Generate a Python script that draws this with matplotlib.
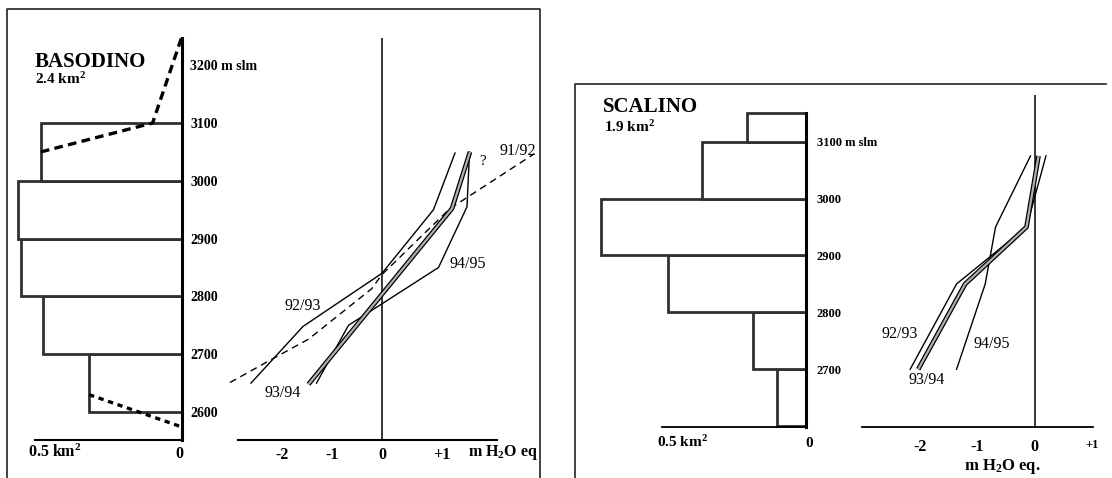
import matplotlib
matplotlib.use('Agg')
import matplotlib.pyplot as plt
from matplotlib.lines import Line2D
from matplotlib.transforms import ScaledTranslation

plt.rcParams['font.family'] = ['Liberation Serif', 'DejaVu Serif']
plt.rcParams['mathtext.fontset'] = 'custom'
plt.rcParams['mathtext.rm'] = 'Liberation Serif'
plt.rcParams['mathtext.bf'] = 'Liberation Serif:bold'
plt.rcParams['mathtext.it'] = 'Liberation Serif:italic'

# ---------------- data ----------------
# BASODINO area-altitude distribution (km2 per 100 m band)
bas_band_bottom = [2600, 2700, 2800, 2900, 3000]
bas_band_area = [0.316, 0.473, 0.548, 0.558, 0.48]
bas_ext_top_area = [0.48, 0.10, 0.0]
bas_ext_top_elev = [3050, 3100, 3250]
bas_ext_bot_area = [0.316, 0.0]
bas_ext_bot_elev = [2630, 2574]
bas_elev_ticks = [2600, 2700, 2800, 2900, 3000, 3100, 3200]
bas_elev_labels = ['2600', '2700', '2800', '2900', '3000', '3100', '3200 m slm']

# BASODINO mass balance profiles (m w.e.)
bas_9192_b = [-3.04, -2.21, -1.47, -0.21, 0.0, 0.29, 0.56, 1.36, 3.05]
bas_9192_z = [2651, 2691, 2726, 2813, 2838, 2862, 2885, 2952, 3047]
bas_9293_b = [-2.62, -1.58, 0.0, 1.03, 1.46]
bas_9293_z = [2650, 2748, 2840, 2950, 3048]
bas_9394_b = [-1.47, 1.40, 1.76]
bas_9394_z = [2648, 2952, 3050]
bas_9495_b = [-1.31, -0.67, 1.13, 1.70, 1.75]
bas_9495_z = [2650, 2750, 2850, 2955, 3050]

# SCALINO area-altitude distribution
sca_band_bottom = [2600, 2700, 2800, 2900, 3000, 3100]
sca_band_height = [100, 100, 100, 100, 100, 50]
sca_band_area = [0.101, 0.182, 0.477, 0.712, 0.361, 0.205]
sca_elev_ticks = [2700, 2800, 2900, 3000, 3100]
sca_elev_labels = ['2700', '2800', '2900', '3000', '3100 m slm']

# SCALINO mass balance profiles
sca_z = [2700, 2850, 2950, 3075]
sca_9293_b = [-2.17, -1.36, -0.14, 0.20]
sca_9394_b = [-2.03, -1.21, -0.14, 0.07]
sca_9495_b = [-1.36, -0.86, -0.68, -0.07]

bal_ticks = [-2, -1, 0, 1]
bal_tick_labels = ['-2', '-1', '0', '+1']

KM2 = r'km$^{\mathbf{2}}$'

# ---------------- layout ----------------
W, H = 1112, 478
fig = plt.figure(figsize=(W / 100, H / 100), dpi=100)
fig.patch.set_facecolor('white')


def add_ax(x0, x1, y_top, y_bot):
    return fig.add_axes([x0 / W, 1 - y_bot / H, (x1 - x0) / W, (y_bot - y_top) / H])


def elev_at(px, px3100, scale):
    return 3100 - (px - px3100) / scale


def fig_line(xs, ys, **kw):
    fig.add_artist(Line2D([x / W for x in xs], [1 - y / H for y in ys],
                          transform=fig.transFigure, **kw))


def shift(label, dx_px, dy_px=0):
    label.set_transform(label.get_transform() +
                        ScaledTranslation(dx_px / 100, -dy_px / 100, fig.dpi_scale_trans))


EDGE = '#303030'

# frames
fig_line([7, 7, 540, 540], [478, 9, 9, 478], color='#222222', lw=1.2)
fig_line([575, 575, 1106], [478, 84, 84], color='#222222', lw=1.2)

# ---------- BASODINO histogram ----------
L3100, LSC = 123, 0.578
bas_ylim = (elev_at(440, L3100, LSC), elev_at(38, L3100, LSC))
ax1 = add_ax(35, 182, 38, 440)
ax1.set_xlim(0.5, 0)
ax1.set_ylim(*bas_ylim)
ax1.barh(bas_band_bottom, bas_band_area, height=100, align='edge',
         facecolor='white', edgecolor=EDGE, lw=2.0, clip_on=False, zorder=2)
ax1.plot(bas_ext_top_area, bas_ext_top_elev, color='black', lw=2.4,
         dashes=(2.6, 1.6), clip_on=False, zorder=3)
ax1.plot(bas_ext_bot_area, bas_ext_bot_elev, color='black', lw=2.4,
         dashes=(1.6, 1.4), clip_on=False, zorder=3)
for s in ['left', 'top']:
    ax1.spines[s].set_visible(False)
ax1.spines['right'].set_linewidth(2.2)
ax1.spines['bottom'].set_linewidth(1.5)
ax1.set_facecolor('none')
ax1.yaxis.tick_right()
ax1.set_yticks(bas_elev_ticks)
ax1.set_yticklabels(bas_elev_labels, fontsize=10, fontweight='bold')
ax1.tick_params(axis='y', length=0, pad=6)
ax1.set_xticks([0.5, 0])
ax1.set_xticklabels(['0.5 ' + KM2, '0'], fontsize=11.5, fontweight='bold')
ax1.tick_params(axis='x', length=0, pad=3)
xl = ax1.get_xticklabels()
xl[0].set_ha('left'); shift(xl[0], -7)
xl[1].set_ha('right'); shift(xl[1], 1, 2)

# ---------- BASODINO balance ----------
ax2 = add_ax(238, 497, 38, 440)
ax2.set_xlim((238 - 382) / 50, (497 - 382) / 50)
ax2.set_ylim(*bas_ylim)
ax2.set_facecolor('none')
for s in ['left', 'top', 'right']:
    ax2.spines[s].set_visible(False)
ax2.spines['bottom'].set_linewidth(1.5)
ax2.axvline(0, color='black', lw=1.1)
ax2.plot(bas_9192_b, bas_9192_z, color='black', lw=1.0, dashes=(5, 3.5), clip_on=False)
ax2.plot(bas_9293_b, bas_9293_z, color='black', lw=1.0, clip_on=False)
ax2.plot(bas_9495_b, bas_9495_z, color='black', lw=1.0, clip_on=False)
ax2.plot(bas_9394_b, bas_9394_z, color='black', lw=3.4, clip_on=False, solid_capstyle='butt')
ax2.plot(bas_9394_b, bas_9394_z, color='#b0b0b0', lw=1.6, clip_on=False, solid_capstyle='butt')
ax2.set_xticks(bal_ticks)
ax2.set_xticklabels(bal_tick_labels, fontsize=11.5, fontweight='bold')
ax2.tick_params(axis='x', length=0, pad=5)
ax2.set_yticks([])
shift(ax2.get_xticklabels()[3], 10)
ax2.text(-1.58, 2783, '92/93', fontsize=11.5, ha='center', va='center')
ax2.text(-1.98, 2633, '93/94', fontsize=11.5, ha='center', va='center')
ax2.text(1.72, 2856, '94/95', fontsize=11.5, ha='center', va='center')
ax2.text(2.72, 3052, '91/92', fontsize=11.5, ha='center', va='center')
ax2.text(2.02, 3033, '?', fontsize=11, ha='center', va='center')
fig.text(468 / W, 1 - 453 / H, r'm H$_{\mathbf{2}}$O eq', fontsize=11.5,
         fontweight='bold', ha='left', va='center')

fig.text(35 / W, 1 - 62 / H, 'BASODINO', fontsize=15, fontweight='bold',
         ha='left', va='center')
fig.text(35 / W, 1 - 79 / H, '2.4 ' + KM2, fontsize=11, fontweight='bold',
         ha='left', va='center')

# ---------- SCALINO histogram ----------
R3100, RSC = 141.7, 0.569
ax3 = add_ax(661.7, 805.7, 113.3, 426.7)
ax3.set_xlim(0.5, 0)
ax3.set_ylim(elev_at(426.7, R3100, RSC), elev_at(113.3, R3100, RSC))
ax3.set_facecolor('none')
ax3.barh(sca_band_bottom, sca_band_area, height=sca_band_height, align='edge',
         facecolor='white', edgecolor=EDGE, lw=2.0, clip_on=False, zorder=2)
for s in ['left', 'top']:
    ax3.spines[s].set_visible(False)
ax3.spines['right'].set_linewidth(2.2)
ax3.spines['bottom'].set_linewidth(1.3)
ax3.yaxis.tick_right()
ax3.set_yticks(sca_elev_ticks)
ax3.set_yticklabels(sca_elev_labels, fontsize=9, fontweight='bold')
ax3.tick_params(axis='y', length=0, pad=8)
ax3.set_xticks([0.5, 0])
ax3.set_xticklabels(['0.5 ' + KM2, '0'], fontsize=11, fontweight='bold')
ax3.tick_params(axis='x', length=0, pad=5)
xl = ax3.get_xticklabels()
xl[0].set_ha('left'); shift(xl[0], -5)
shift(xl[1], 3, 3)

fig.text(603 / W, 1 - 107 / H, 'SCALINO', fontsize=15, fontweight='bold',
         ha='left', va='center')
fig.text(604 / W, 1 - 127 / H, '1.9 ' + KM2, fontsize=11, fontweight='bold',
         ha='left', va='center')

# ---------- SCALINO balance ----------
ax4 = add_ax(861.7, 1093.3, 95, 426.7)
ax4.set_xlim((861.7 - 1034.5) / 57.3, (1093.3 - 1034.5) / 57.3)
ax4.set_ylim(elev_at(426.7, R3100, RSC), elev_at(95, R3100, RSC))
ax4.set_facecolor('none')
for s in ['left', 'top', 'right']:
    ax4.spines[s].set_visible(False)
ax4.spines['bottom'].set_linewidth(1.3)
ax4.axvline(0, color='black', lw=1.1)
ax4.plot(sca_9293_b, sca_z, color='black', lw=1.0)
ax4.plot(sca_9495_b, sca_z, color='black', lw=1.0)
ax4.plot(sca_9394_b, sca_z, color='black', lw=3.4, solid_capstyle='butt')
ax4.plot(sca_9394_b, sca_z, color='#b0b0b0', lw=1.6, solid_capstyle='butt')
ax4.set_xticks(bal_ticks)
ax4.set_xticklabels(bal_tick_labels, fontsize=11.5, fontweight='bold')
ax4.tick_params(axis='x', length=0, pad=9)
ax4.set_yticks([])
xl = ax4.get_xticklabels()
xl[3].set_fontsize(9)
ax4.text(-2.35, 2762, '92/93', fontsize=11.5, ha='center', va='center')
ax4.text(-1.89, 2681, '93/94', fontsize=11.5, ha='center', va='center')
ax4.text(-0.74, 2745, '94/95', fontsize=11.5, ha='center', va='center')
fig.text(1002 / W, 1 - 466 / H, r'm H$_{\mathbf{2}}$O eq.', fontsize=12,
         fontweight='bold', ha='center', va='center')

fig.savefig('out.png', dpi=100)
